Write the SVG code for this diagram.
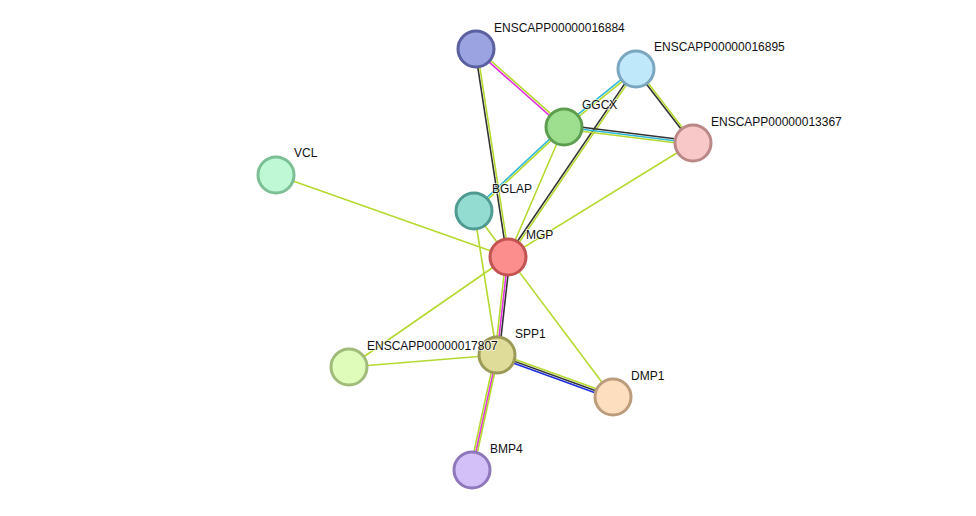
<svg xmlns="http://www.w3.org/2000/svg" width="976" height="516" viewBox="0 0 976 516">
<style>
line{stroke-width:1.6}
.y{stroke:#b5d930}.k{stroke:#333}.m{stroke:#e030e0}.c{stroke:#30b8d8}.b{stroke:#2030e0}
circle{stroke-width:3}
text{font-family:"Liberation Sans",Arial,sans-serif;font-size:12px;fill:#111;paint-order:stroke;stroke:#fff;stroke-width:2px;stroke-opacity:0.6}
</style>
<rect width="976" height="516" fill="#fff"/>
<g id="edges">
<line class="m" x1="476" y1="49" x2="564" y2="127" transform="translate(-0.7,0.8)"/>
<line class="y" x1="476" y1="49" x2="564" y2="127" transform="translate(0.7,-0.8)"/>
<line class="k" x1="476" y1="49" x2="508" y2="257" transform="translate(-1,0.15)"/>
<line class="y" x1="476" y1="49" x2="508" y2="257" transform="translate(1,-0.15)"/>
<line class="c" x1="636" y1="69" x2="564" y2="127" transform="translate(-0.6,-0.8)"/>
<line class="y" x1="636" y1="69" x2="564" y2="127" transform="translate(0.6,0.8)"/>
<line class="k" x1="636" y1="69" x2="508" y2="257" transform="translate(-0.8,-0.6)"/>
<line class="y" x1="636" y1="69" x2="508" y2="257" transform="translate(0.8,0.6)"/>
<line class="k" x1="636" y1="69" x2="693" y2="143" transform="translate(-0.8,0.6)"/>
<line class="y" x1="636" y1="69" x2="693" y2="143" transform="translate(0.8,-0.6)"/>
<line class="k" x1="564" y1="127" x2="693" y2="143" transform="translate(0,-2)"/>
<line class="c" x1="564" y1="127" x2="693" y2="143"/>
<line class="y" x1="564" y1="127" x2="693" y2="143" transform="translate(0,2)"/>
<line class="c" x1="564" y1="127" x2="474" y2="211" transform="translate(-0.7,-0.7)"/>
<line class="y" x1="564" y1="127" x2="474" y2="211" transform="translate(0.7,0.7)"/>
<line class="y" x1="564" y1="127" x2="508" y2="257"/>
<line class="y" x1="693" y1="143" x2="508" y2="257"/>
<line class="y" x1="276" y1="175" x2="508" y2="257"/>
<line class="y" x1="474" y1="211" x2="508" y2="257"/>
<line class="y" x1="474" y1="211" x2="497" y2="355"/>
<line class="k" x1="508" y1="257" x2="497" y2="355" transform="translate(2,0)"/>
<line class="m" x1="508" y1="257" x2="497" y2="355"/>
<line class="y" x1="508" y1="257" x2="497" y2="355" transform="translate(-2,0)"/>
<line class="y" x1="508" y1="257" x2="349" y2="367"/>
<line class="y" x1="508" y1="257" x2="613" y2="397"/>
<line class="y" x1="497" y1="355" x2="349" y2="367"/>
<line class="y" x1="497" y1="355" x2="613" y2="397" transform="translate(0.7,-1.9)"/>
<line class="k" x1="497" y1="355" x2="613" y2="397"/>
<line class="b" x1="497" y1="355" x2="613" y2="397" transform="translate(-0.7,1.9)"/>
<line class="y" x1="497" y1="355" x2="472" y2="470" transform="translate(-2,0)"/>
<line class="m" x1="497" y1="355" x2="472" y2="470"/>
<line class="y" x1="497" y1="355" x2="472" y2="470" transform="translate(1.5,0)"/>
</g>
<g id="n16884"><circle cx="476" cy="49" r="18" fill="#9ba3e0" stroke="#5a5fa0"/><text x="494" y="32">ENSCAPP00000016884</text></g>
<g id="n16895"><circle cx="636" cy="69" r="18" fill="#c0e8fb" stroke="#7aa6c0"/><text x="654" y="51">ENSCAPP00000016895</text></g>
<g id="nGGCX"><circle cx="564" cy="127" r="18" fill="#9edf8f" stroke="#5d9d50"/><text x="582" y="109">GGCX</text></g>
<g id="n13367"><circle cx="693" cy="143" r="18" fill="#f8c8c8" stroke="#bb8888"/><text x="711" y="126">ENSCAPP00000013367</text></g>
<g id="nVCL"><circle cx="276" cy="175" r="18" fill="#bff8d5" stroke="#7cbf94"/><text x="294" y="157">VCL</text></g>
<g id="nBGLAP"><circle cx="474" cy="211" r="18" fill="#93dcd2" stroke="#4f9a91"/><text x="492" y="193">BGLAP</text></g>
<g id="nMGP"><circle cx="508" cy="257" r="18" fill="#fd8e8e" stroke="#c35353"/><text x="526" y="239">MGP</text></g>
<g id="nSPP1"><circle cx="497" cy="355" r="18" fill="#dedc98" stroke="#9c9a57"/><text x="515" y="338">SPP1</text></g>
<g id="n17807"><circle cx="349" cy="367" r="18" fill="#e0fcbb" stroke="#a0bb7a"/><text x="367" y="350">ENSCAPP00000017807</text></g>
<g id="nDMP1"><circle cx="613" cy="397" r="18" fill="#fddfc0" stroke="#bb9c7b"/><text x="631" y="380">DMP1</text></g>
<g id="nBMP4"><circle cx="472" cy="470" r="18" fill="#d4c0f8" stroke="#8e78bb"/><text x="490" y="453">BMP4</text></g>
</svg>
